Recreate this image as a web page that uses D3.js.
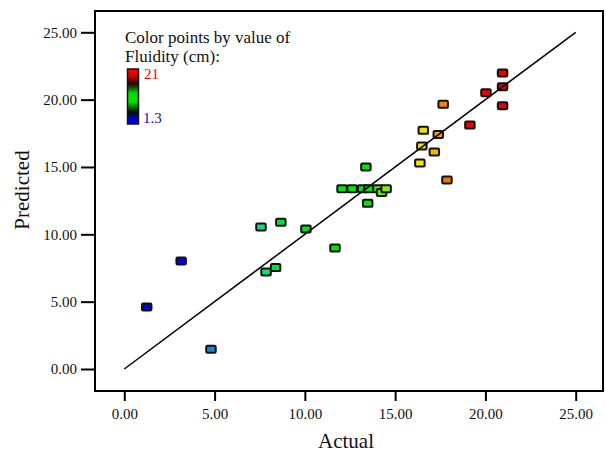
<!DOCTYPE html>
<html>
<head>
<meta charset="utf-8">
<script src="https://cdn.jsdelivr.net/npm/d3@7"></script>
<style>
  html, body { margin: 0; padding: 0; background: #fff; }
  svg { display: block; font-family: "Liberation Serif", "Times New Roman", serif; }
</style>
</head>
<body>
<svg id="chart" width="606" height="452"></svg>
<script>
// Fluidity (cm): actual vs. predicted runs
const actual = [1.24, 3.15, 4.8, 7.57, 7.85, 8.38, 8.67, 10.06, 11.67, 12.06, 12.62, 13.2, 13.55, 13.48,
  13.38, 14.05, 14.25, 14.5, 16.37, 16.48, 16.56, 17.17, 17.39, 17.66, 17.87, 19.14, 20.03, 20.95, 20.95, 20.95];
const predicted = [4.6, 8.02, 1.47, 10.55, 7.2, 7.53, 10.9, 10.39, 8.98, 13.39, 13.39, 13.39, 13.39, 12.3,
  15.0, 13.39, 13.1, 13.39, 15.29, 16.56, 17.72, 16.11, 17.42, 19.65, 14.03, 18.11, 20.51, 21.98, 20.96, 19.55];

const tickValues = [0, 5, 10, 15, 20, 25];
const fluidityRange = [1.3, 21];

// colour ramp used to shade each run by its fluidity
const colorStops = [1.3, 3.2, 4.8, 7.6, 8.5, 13.6, 14.5, 16.4, 17.2, 17.9, 19.1, 21];
const colorRamp = ["#0000d0", "#0000e0", "#1e80e0", "#10e080", "#00e030", "#00e800",
  "#90e800", "#f0e800", "#f0b400", "#f07000", "#f00000", "#e80000"];

const svg = d3.select("#chart");
const box = { left: 95, right: 603, top: 11, bottom: 391 };

const x = d3.scaleLinear().domain([0, 25]).range([124.3, 575.7]);
const y = d3.scaleLinear().domain([0, 25]).range([369, 32.3]);
const color = d3.scaleLinear().domain(colorStops).range(colorRamp).clamp(true);

const fmt = d3.format(".2f");

// y axis
const yAxis = svg.append("g")
  .attr("transform", `translate(${box.left},0)`)
  .call(d3.axisLeft(y).tickValues(tickValues).tickSize(14).tickPadding(4).tickFormat(fmt));
// x axis
const xAxis = svg.append("g")
  .attr("transform", `translate(0,${box.bottom})`)
  .call(d3.axisBottom(x).tickValues(tickValues).tickSize(10).tickPadding(7).tickFormat(fmt));

[yAxis, xAxis].forEach(g => {
  g.select(".domain").remove();
  g.selectAll(".tick line").attr("stroke", "#000").attr("stroke-width", 2);
  g.selectAll(".tick text").attr("fill", "#111").style("font-size", "15px")
    .style("font-family", "'Liberation Serif', serif");
});

// plot frame
svg.append("rect")
  .attr("x", box.left).attr("y", box.top)
  .attr("width", box.right - box.left).attr("height", box.bottom - box.top)
  .attr("fill", "none").attr("stroke", "#000").attr("stroke-width", 2);

// points
svg.append("g").selectAll("rect")
  .data(actual.map((a, i) => ({ a, p: predicted[i] })))
  .join("rect")
  .attr("x", d => x(d.a) - 4.75)
  .attr("y", d => y(d.p) - 3.5)
  .attr("width", 9.5).attr("height", 7)
  .attr("rx", 1.2)
  .attr("fill", d => color(d.a))
  .attr("stroke", "#111").attr("stroke-width", 2);

// 45° reference line
svg.append("line")
  .attr("x1", x(0)).attr("y1", y(0))
  .attr("x2", x(25)).attr("y2", y(25))
  .attr("stroke", "#000").attr("stroke-width", 1.5);

// axis titles
svg.append("text")
  .attr("x", 346).attr("y", 448)
  .attr("text-anchor", "middle")
  .style("font-size", "21px").attr("fill", "#111")
  .text("Actual");
svg.append("text")
  .attr("transform", "translate(29,190) rotate(-90)")
  .attr("text-anchor", "middle")
  .style("font-size", "21px").attr("fill", "#111")
  .text("Predicted");

// legend
const legend = svg.append("g");
legend.append("text").attr("x", 125).attr("y", 43)
  .style("font-size", "17px").attr("fill", "#111").text("Color points by value of");
legend.append("text").attr("x", 125).attr("y", 62)
  .style("font-size", "17px").attr("fill", "#111").text("Fluidity (cm):");

const grad = svg.append("defs").append("linearGradient")
  .attr("id", "fluidityGrad").attr("x1", 0).attr("y1", 0).attr("x2", 0).attr("y2", 1);
[[0, "#ff0000"], [0.12, "#e00000"], [0.27, "#200000"], [0.45, "#00e000"], [0.6, "#00e000"],
 [0.78, "#001000"], [0.9, "#0000c0"], [1, "#0000ff"]]
  .forEach(([o, c]) => grad.append("stop").attr("offset", o).attr("stop-color", c));

legend.append("rect")
  .attr("x", 127.5).attr("y", 69)
  .attr("width", 11).attr("height", 55)
  .attr("fill", "url(#fluidityGrad)")
  .attr("stroke", "#111").attr("stroke-width", 1.5);
legend.append("text").attr("x", 144).attr("y", 79)
  .style("font-size", "15px").attr("fill", "#ff0000").text(fluidityRange[1]);
legend.append("text").attr("x", 143).attr("y", 123)
  .style("font-size", "15px").attr("fill", "#1010c8").text(fluidityRange[0]);
</script>
</body>
</html>
